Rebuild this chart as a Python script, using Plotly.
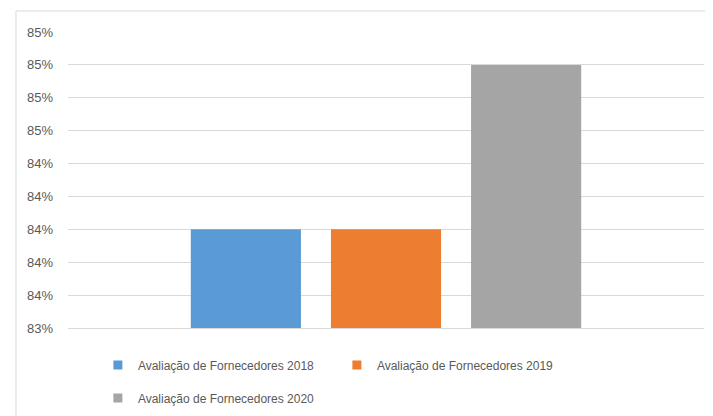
import plotly.graph_objects as go

categories = [""]
series_names = ["Avaliação de Fornecedores 2018", "Avaliação de Fornecedores 2019", "Avaliação de Fornecedores 2020"]
values_2018 = [0.84]
values_2019 = [0.84]
values_2020 = [0.85]
colors = ["#5B9BD5", "#ED7D31", "#A5A5A5"]
legend_rows = ["legend", "legend", "legend2"]

FONT = "Liberation Sans, Arial, sans-serif"
fig = go.Figure()
for name, vals, col in zip(series_names, [values_2018, values_2019, values_2020], colors):
    fig.add_trace(go.Bar(x=categories, y=vals, name=name, showlegend=False,
                         marker=dict(color=col, line=dict(width=0))))
# legend entries (square markers, like the original)
for name, col, lg in zip(series_names, colors, legend_rows):
    fig.add_trace(go.Scatter(x=[None], y=[None], mode="markers", name=name, legend=lg,
                             marker=dict(symbol="square", size=9, color=col), showlegend=True))

legfont = dict(family=FONT, size=12, color="#595959")
fig.update_layout(
    width=705, height=408,
    margin=dict(l=60, r=9, t=24, b=88),
    paper_bgcolor="white", plot_bgcolor="white",
    barmode="group", bargap=0.339, bargroupgap=0.214,
    font=dict(family=FONT, size=12, color="#595959"),
    showlegend=True,
    legend=dict(orientation="h", xref="container", yref="container", x=0.1275, xanchor="left",
                y=0.125, yanchor="middle",
                entrywidth=194, font=legfont, traceorder="normal", itemclick=False, itemsizing="trace"),
    legend2=dict(orientation="h", xref="container", yref="container", x=0.1275, xanchor="left",
                 y=0.044, yanchor="middle",
                 entrywidth=194, font=legfont, traceorder="normal", itemclick=False, itemsizing="trace"),
    xaxis=dict(showticklabels=False, showgrid=False, showline=True, linecolor="#d9d9d9", linewidth=1, ticks=""),
    yaxis=dict(range=[0.834, 0.852], dtick=0.002, tick0=0.834, tickformat=".0%",
               showgrid=True, gridcolor="#d9d9d9", gridwidth=1, zeroline=False, ticks="",
               ticklabelstandoff=14, tickfont=dict(family=FONT, size=13, color="#595959")),
    shapes=[dict(type="rect", xref="paper", yref="paper", x0=-0.0818, x1=1.2, y0=-0.5, y1=1.0709,
                 line=dict(color="#d9d9d9", width=1), fillcolor="rgba(0,0,0,0)", layer="below")],
)
fig.write_html("out.html")
